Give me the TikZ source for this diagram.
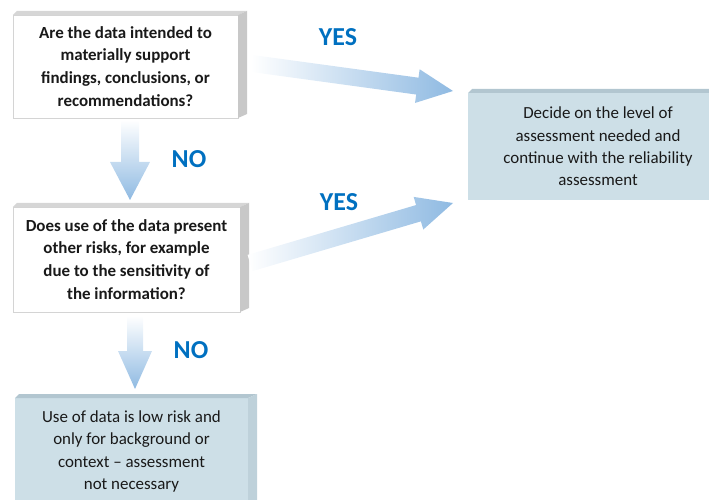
\documentclass[tikz,border=0pt]{standalone}
\usepackage{fontspec}
\setmainfont{Carlito}
\usetikzlibrary{calc}

\definecolor{arrowblue}{RGB}{143,186,226}
\definecolor{labelblue}{RGB}{0,112,192}
\definecolor{boxblue}{RGB}{205,223,231}
\definecolor{boxblueside}{RGB}{190,209,218}
\definecolor{boxbluetop}{RGB}{178,198,208}
\definecolor{boxgrey}{RGB}{200,200,200}
\definecolor{boxgreytop}{RGB}{214,214,214}
\definecolor{boxline}{RGB}{212,212,212}
\definecolor{textgrey}{RGB}{25,25,25}

\tikzset{
  qbox/.style={draw=boxline, fill=white, line width=0.8bp, inner sep=0pt, outer sep=0pt, align=center, text=textgrey, font=\fontsize{17}{23}\selectfont\bfseries},
  abox/.style={fill=boxblue, inner sep=0pt, outer sep=0pt, align=center, text=textgrey, font=\fontsize{17}{22.5}\selectfont},
  answer/.style={text=labelblue, font=\fontsize{26}{30}\selectfont\bfseries},
  yesarrow/.style={left color=white, right color=arrowblue},
  noarrow/.style={top color=white, bottom color=arrowblue}
}

\newcommand{\boxdepth}[3]{%
  \fill[#3] (#1.north west) -- ++(4,-4) -- ($(#1.north east)+(9,-4)$) -- (#1.north east) -- cycle;
  \fill[#2] (#1.north east) -- ++(9,-4) -- ($(#1.south east)+(9,-4)$) -- (#1.south east) -- cycle;
}

\newcommand{\fatarrow}[6]{%
  \coordinate (hb) at ($(#3)!#4!(#2)$);
  \shade[#1] ($(#2)!#5!90:(#3)$) -- ($(hb)!#5!90:(#3)$) -- ($(hb)!#6!90:(#3)$) -- (#3)
    -- ($(hb)!#6!-90:(#3)$) -- ($(hb)!#5!-90:(#3)$) -- ($(#2)!#5!-90:(#3)$) -- cycle;
}

\begin{document}
\begin{tikzpicture}[x=1bp, y=-1bp]
\useasboundingbox (0,0) rectangle (709,500);

\node[qbox, minimum width=225bp, minimum height=103bp] (q1) at (125.5,66.5)
  {Are the data intended to\\ materially support\\ findings, conclusions, or\\ recommendations?};
\node[qbox, minimum width=227bp, minimum height=105bp] (q2) at (126.5,259.5)
  {Does use of the data present\\ other risks, for example\\ due to the sensitivity of\\ the information?};
\node[abox, minimum width=260bp, minimum height=107bp] (r1) at (598,146.5)
  {Decide on the level of\\ assessment needed and\\ continue with the reliability\\ assessment};
\node[abox, minimum width=233bp, minimum height=107bp] (r2) at (131.5,451.5)
  {Use of data is low risk and\\ only for background or\\ context -- assessment\\ not necessary};

\boxdepth{q1}{boxgrey}{boxgreytop}
\boxdepth{q2}{boxgrey}{boxgreytop}
\boxdepth{r1}{boxblueside}{boxbluetop}
\boxdepth{r2}{boxblueside}{boxbluetop}

\coordinate (y1s) at ($(q1.east)+(14,-3)$);
\coordinate (y1t) at ($(r1.west)+(-15,-55.5)$);
\coordinate (y2s) at ($(q2.east)+(10,3.5)$);
\coordinate (y2t) at ($(r1.south west)+(-15,3)$);
\coordinate (n1s) at ($(q1.south)+(4.5,2)$);
\coordinate (n1t) at ($(q2.north)+(3.5,-7)$);
\coordinate (n2s) at ($(q2.south)+(8.5,4)$);
\coordinate (n2t) at ($(r2.north)+(3.5,-9)$);

\fatarrow{yesarrow}{y1s}{y1t}{36bp}{8.5bp}{17bp}
\fatarrow{yesarrow}{y2s}{y2t}{36bp}{8.5bp}{17bp}
\fatarrow{noarrow}{n1s}{n1t}{38bp}{9bp}{20bp}
\fatarrow{noarrow}{n2s}{n2t}{38bp}{8bp}{17bp}

\node[answer] (yes1) at (338,37) {YES};
\node[answer] (yes2) at (339,202.5) {YES};
\node[answer] (no1) at (189,159) {NO};
\node[answer] (no2) at (191,350) {NO};
\end{tikzpicture}
\end{document}
